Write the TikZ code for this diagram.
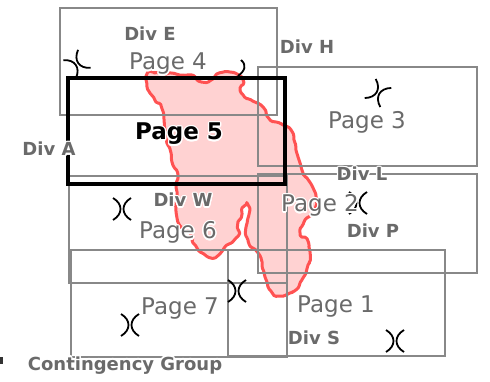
\documentclass[tikz,border=0pt]{standalone}
\usepackage{fontspec}
\setmainfont{DejaVu Sans}
\usepackage{contour}
\contourlength{1.3pt}
\usepackage{tikz}
\usetikzlibrary{decorations.pathmorphing}
\definecolor{pagegray}{HTML}{888888}
\definecolor{labelgray}{HTML}{6A6A6A}
\definecolor{zonefill}{HTML}{FFD2D2}
\definecolor{zoneline}{HTML}{FF5252}

\begin{document}
\begin{tikzpicture}[x=1pt, y=-1pt,
        pagebox/.style={draw=pagegray, line width=2.5pt},
        divlabel/.style={text=labelgray, font=\fontsize{18}{18}\selectfont\bfseries, anchor=base, inner sep=0pt},
        pagelabel/.style={text=labelgray, font=\fontsize{23}{23}\selectfont, anchor=base, inner sep=0pt},
        gapmark/.pic={\draw[line width=1.8pt] (-9,-11) .. controls (1,-5) and (1,5) .. (-9,11);
            \draw[line width=1.8pt] (9,-11) .. controls (-1,-5) and (-1,5) .. (9,11);}]
    \useasboundingbox (0,0) rectangle (490,382);
    \pgfmathsetseed{7}
    % contingency zone
    \draw[fill=zonefill, draw=zoneline, line width=3pt, line join=round, rounded corners=1.5pt,
            decorate, decoration={random steps, segment length=4pt, amplitude=1.3pt}]
        plot[smooth cycle, tension=0.5] coordinates {
        (146,76) (152,73) (160,75) (170,73) (180,75) (188,74) (195,79) (202,82) (209,81) (214,76)
        (220,73) (228,72) (236,74) (242,77) (240,85) (242,93) (248,98) (256,102) (263,107) (267,116)
        (274,121) (283,125) (291,130) (294,140) (296,150) (299,160) (302,170) (307,178) (313,188)
        (316,198) (314,210) (305,220) (300,231) (307,239) (310,252) (308,265) (303,278) (298,288)
        (290,293) (280,296) (271,291) (267,282) (264,272) (262,262) (258,253) (252,249) (248,240)
        (246,228) (249,214) (247,203) (244,205) (242,214) (238,222) (240,230) (236,238) (229,243)
        (224,249) (219,255) (212,258) (204,254) (196,246) (192,236) (185,231) (178,222) (176,210)
        (177,198) (176,185) (178,176) (173,165) (171,153) (167,143) (165,130) (164,120) (162,109)
        (156,102) (150,93) (147,84)};
    % pages
    \draw[pagebox] (60,8) rectangle (277,115);
    \draw[pagebox] (258,67) rectangle (477,166);
    \draw[pagebox] (258,174) rectangle (477,273);
    \draw[pagebox] (69,176) rectangle (287,283);
    \draw[pagebox] (71,250) rectangle (287,357);
    \draw[pagebox] (228,250) rectangle (445,356);
    \draw[line width=4pt] (68,78) rectangle (285,184);
    % gaps
    \pic[rotate=35] at (77,64) {gapmark};
    \pic[rotate=-30] at (378,93) {gapmark};
    \pic at (122,209) {gapmark};
    \pic at (358,203) {gapmark};
    \pic at (237,291) {gapmark};
    \pic at (130,325) {gapmark};
    \pic at (395,341) {gapmark};
    \draw[line width=1.8pt] (241,60) .. controls (247,65) and (245,71) .. (238,76);
    \fill[black!80] (0,357) rectangle (2.5,364);
    % labels
    \node[divlabel] (divE) at (150,41) {\contour{white}{Div E}};
    \node[divlabel] (divH) at (307,54) {\contour{white}{Div H}};
    \node[divlabel] (divA) at (49,156) {\contour{white}{Div A}};
    \node[divlabel] (divL) at (362,181) {\contour{white}{Div L}};
    \node[divlabel] (divW) at (183,207) {\contour{white}{Div W}};
    \node[divlabel] (divP) at (373,237) {\contour{white}{Div P}};
    \node[divlabel] (divS) at (314,344) {\contour{white}{Div S}};
    \node[divlabel] (group) at (125,370) {\contour{white}{Contingency Group}};
    \node[pagelabel] (page4) at (168,70) {\contour{white}{Page 4}};
    \node[pagelabel] (page3) at (367,129) {\contour{white}{Page 3}};
    \node[pagelabel] (page2) at (320,212) {\contour{white}{Page 2}};
    \node[pagelabel] (page6) at (178,239) {\contour{white}{Page 6}};
    \node[pagelabel] (page7) at (180,314) {\contour{white}{Page 7}};
    \node[pagelabel] (page1) at (336,312) {\contour{white}{Page 1}};
    \node[pagelabel, text=black, font=\fontsize{23}{23}\selectfont\bfseries] (page5) at (179,140) {\contour{white}{Page 5}};
\end{tikzpicture}
\end{document}
